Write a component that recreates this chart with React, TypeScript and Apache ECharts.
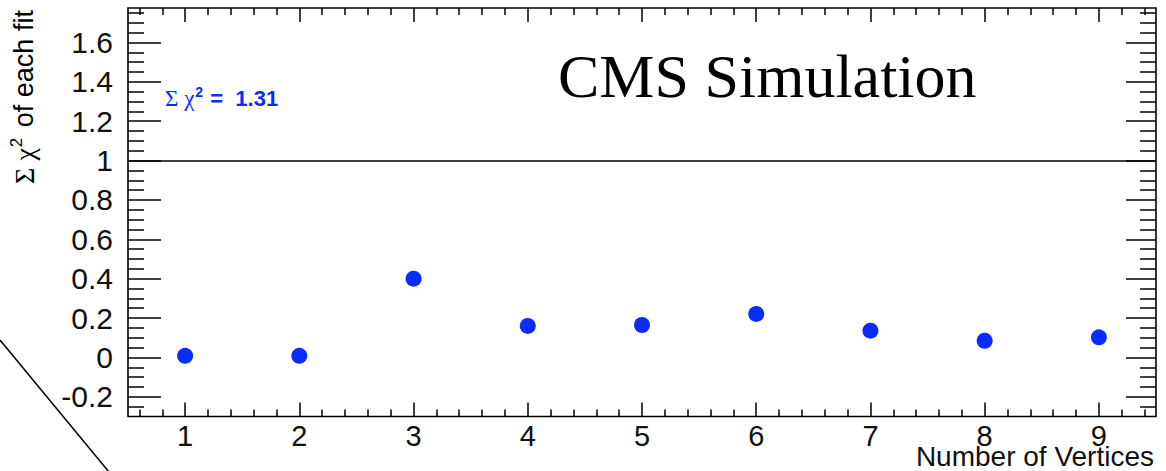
import React, { useEffect, useRef } from "react";
import * as echarts from "echarts";

// ---- data ----
const vertexCounts = [1, 2, 3, 4, 5, 6, 7, 8, 9];
const chi2PerFit = [0.008, 0.008, 0.4, 0.16, 0.165, 0.221, 0.136, 0.085, 0.102];
const xTickLabels = [1, 2, 3, 4, 5, 6, 7, 8, 9];
const yTickLabels = [-0.2, 0, 0.2, 0.4, 0.6, 0.8, 1, 1.2, 1.4, 1.6];
const referenceLevel = 1;
const chi2SumText = "1.31";
const titleText = "CMS Simulation";
const xTitle = "Number of Vertices";

const X_MIN = 0.5;
const X_MAX = 9.5;
const Y_MIN = -0.3;
const Y_MAX = 1.775;

function minorTicks(min: number, max: number, step: number, majors: number[]) {
  const out: number[] = [];
  const start = Math.ceil(min / step - 1e-9);
  const end = Math.floor(max / step + 1e-9);
  for (let i = start; i <= end; i++) {
    const r = Math.round(i * step * 1000) / 1000;
    if (r <= min + 1e-9 || r >= max - 1e-9) continue;
    if (!majors.some((m) => Math.abs(m - r) < 1e-6)) out.push(r);
  }
  return out;
}

const xMinor = minorTicks(X_MIN, X_MAX, 0.2, xTickLabels);
const yMinor = minorTicks(Y_MIN, Y_MAX, 0.05, yTickLabels);

const FONT = '"Liberation Sans", Arial, Helvetica, sans-serif';
const SERIF = '"Liberation Serif", "Times New Roman", serif';
const BLUE = "#0b2cff";

function fmt(v: number) {
  return String(Math.round(v * 100) / 100);
}

function xAxisDef(position: string, ticks: number[], len: number, labels: boolean) {
  return {
    type: "value",
    position,
    min: X_MIN,
    max: X_MAX,
    axisLine: { show: false, onZero: false },
    splitLine: { show: false },
    axisTick: {
      show: true,
      inside: true,
      length: len,
      customValues: ticks,
      lineStyle: { color: "#000", width: 1.5 },
    },
    axisLabel: labels
      ? {
          show: true,
          customValues: ticks,
          formatter: (v: number) => fmt(v),
          fontSize: 29,
          fontFamily: FONT,
          color: "#111",
          margin: 5,
        }
      : { show: false },
  };
}

function yAxisDef(position: string, ticks: number[], len: number, labels: boolean) {
  return {
    type: "value",
    position,
    min: Y_MIN,
    max: Y_MAX,
    axisLine: { show: false, onZero: false },
    splitLine: { show: false },
    axisTick: {
      show: true,
      inside: true,
      length: len,
      customValues: ticks,
      lineStyle: { color: "#000", width: 1.5 },
    },
    axisLabel: labels
      ? {
          show: true,
          customValues: ticks,
          formatter: (v: number) => fmt(v),
          fontSize: 30,
          fontFamily: FONT,
          color: "#111",
          margin: 15,
        }
      : { show: false },
  };
}

export default function App() {
  const ref = useRef<HTMLDivElement>(null);

  useEffect(() => {
    if (!ref.current) return;
    const chart = echarts.init(ref.current, null, { renderer: "svg" });
    const option: any = {
      animation: false,
      backgroundColor: "#fff",
      grid: {
        left: 128,
        top: 8,
        right: 10,
        bottom: 54.5,
        show: true,
        borderColor: "#000",
        borderWidth: 1.6,
        backgroundColor: "transparent",
        containLabel: false,
        outerBoundsMode: "none",
      },
      xAxis: [
        xAxisDef("bottom", xTickLabels, 14, true),
        xAxisDef("bottom", xMinor, 7, false),
        xAxisDef("top", xTickLabels, 14, false),
        xAxisDef("top", xMinor, 7, false),
      ],
      yAxis: [
        yAxisDef("left", yTickLabels, 33, true),
        yAxisDef("left", yMinor, 16, false),
        yAxisDef("right", yTickLabels, 30, false),
        yAxisDef("right", yMinor, 16, false),
      ],
      series: [
        {
          type: "scatter",
          xAxisIndex: 0,
          yAxisIndex: 0,
          symbol: "circle",
          symbolSize: 16,
          itemStyle: { color: BLUE, opacity: 1 },
          data: vertexCounts.map((x, i) => [x, chi2PerFit[i]]),
          markLine: {
            silent: true,
            symbol: ["none", "none"],
            label: { show: false },
            lineStyle: { color: "#000", width: 1.6, type: "solid" },
            data: [{ yAxis: referenceLevel }],
          },
        },
      ],
      graphic: [
        {
          type: "text",
          x: 24,
          y: 97,
          rotation: Math.PI / 2,
          style: {
            text: "{g|Σ χ}{s|2}{t| of each fit}",
            align: "center",
            verticalAlign: "middle",
            rich: {
              g: { fontSize: 28, fontFamily: SERIF, fill: "#000" },
              s: {
                fontSize: 17,
                fontFamily: FONT,
                fill: "#000",
                padding: [0, 3, 15, 1],
              },
              t: { fontSize: 27, fontFamily: FONT, fill: "#000" },
            },
          },
        },
        {
          type: "text",
          x: 558,
          y: 76,
          style: {
            text: titleText,
            fontSize: 62,
            fontFamily: SERIF,
            fill: "#000",
            align: "left",
            verticalAlign: "middle",
          },
        },
        {
          type: "text",
          x: 165,
          y: 98,
          style: {
            text: "{g|Σ χ}{s|2}{b| =  " + chi2SumText + "}",
            align: "left",
            verticalAlign: "middle",
            rich: {
              g: { fontSize: 23, fontFamily: SERIF, fill: BLUE },
              s: {
                fontSize: 14,
                fontWeight: "bold",
                fontFamily: FONT,
                fill: BLUE,
                padding: [0, 1, 12, 1],
              },
              b: { fontSize: 22, fontWeight: "bold", fontFamily: FONT, fill: BLUE },
            },
          },
        },
        {
          type: "text",
          x: 1154,
          y: 456,
          style: {
            text: xTitle,
            fontSize: 28,
            fontFamily: FONT,
            fill: "#111",
            align: "right",
            verticalAlign: "middle",
          },
        },
        {
          type: "line",
          shape: { x1: 0, y1: 340, x2: 109, y2: 472 },
          style: { stroke: "#000", lineWidth: 1.5 },
        },
      ],
    };
    chart.setOption(option);
    return () => chart.dispose();
  }, []);

  return (
    <div
      ref={ref}
      style={{ position: "absolute", left: 0, top: 0, width: 1166, height: 471 }}
    />
  );
}
